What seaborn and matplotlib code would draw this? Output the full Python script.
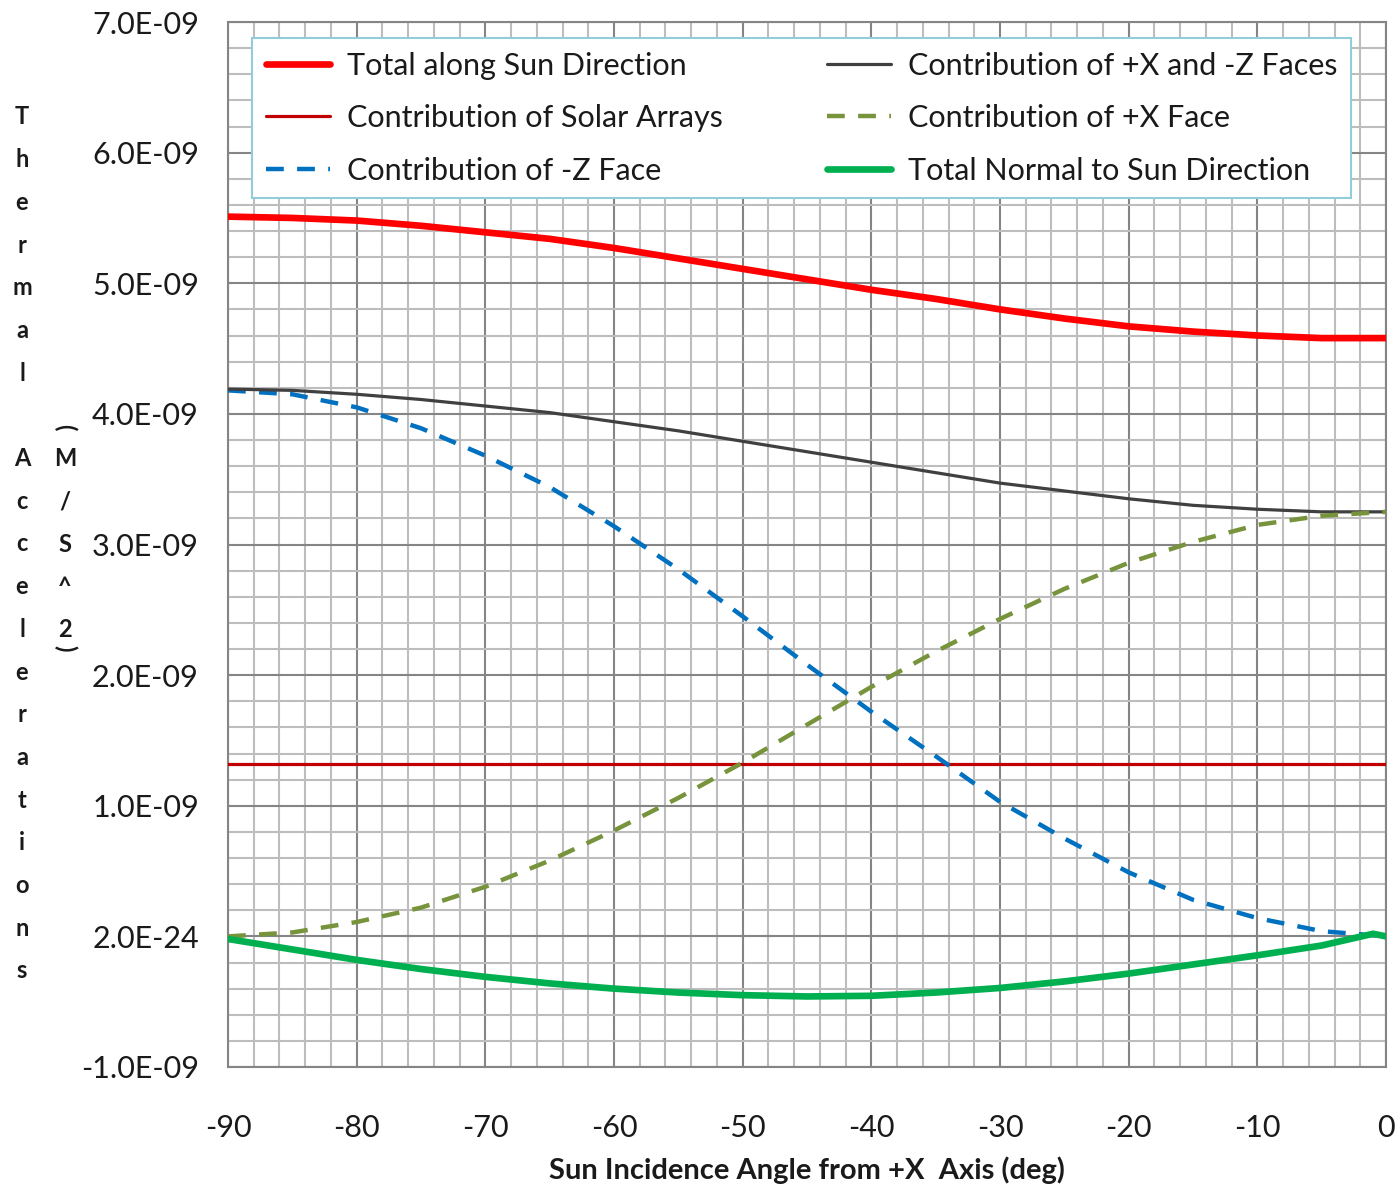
import numpy as np
import pandas as pd
import matplotlib
matplotlib.use("Agg")
import matplotlib.pyplot as plt
from matplotlib.ticker import FixedLocator, FixedFormatter, MultipleLocator
import seaborn as sns

# Sun incidence angle (deg) and thermal accelerations (units of 1e-9 m/s^2)
angles = [-90, -85, -80, -75, -70, -65, -60, -55, -50, -45,
          -40, -35, -30, -25, -20, -15, -10, -5, 0]
total_along_sun = [5.51, 5.50, 5.48, 5.44, 5.39, 5.34, 5.27, 5.19, 5.11, 5.03,
                   4.95, 4.88, 4.80, 4.73, 4.67, 4.63, 4.60, 4.58, 4.58]
solar_arrays = [1.32, 1.32, 1.32, 1.32, 1.32, 1.32, 1.32, 1.32, 1.32, 1.32,
                1.32, 1.32, 1.32, 1.32, 1.32, 1.32, 1.32, 1.32, 1.32]
minus_z_face = [4.18, 4.15, 4.05, 3.89, 3.68, 3.44, 3.14, 2.81, 2.45, 2.08,
                1.72, 1.38, 1.03, 0.75, 0.49, 0.28, 0.14, 0.04, 0.00]
plus_x_and_minus_z = [4.19, 4.18, 4.15, 4.11, 4.06, 4.01, 3.94, 3.87, 3.79, 3.71,
                      3.63, 3.55, 3.47, 3.41, 3.35, 3.30, 3.27, 3.25, 3.25]
plus_x_face = [0.00, 0.03, 0.11, 0.22, 0.38, 0.58, 0.81, 1.06, 1.33, 1.62,
               1.91, 2.18, 2.43, 2.66, 2.86, 3.02, 3.15, 3.22, 3.25]
angles_normal = [-90, -85, -80, -75, -70, -65, -60, -55, -50, -45,
                 -40, -35, -30, -25, -20, -15, -10, -5, -1, 0]
total_normal = [-0.02, -0.10, -0.18, -0.25, -0.31, -0.36, -0.40, -0.43, -0.45, -0.46,
                -0.455, -0.43, -0.395, -0.345, -0.285, -0.215, -0.145, -0.07, 0.02, 0.00]

x_ticks = [-90, -80, -70, -60, -50, -40, -30, -20, -10, 0]
x_tick_labels = ["-90", "-80", "-70", "-60", "-50", "-40", "-30", "-20", "-10", "0"]
y_ticks = [-1e-9, 0.0, 1e-9, 2e-9, 3e-9, 4e-9, 5e-9, 6e-9, 7e-9]
y_tick_labels = ["-1.0E-09", "2.0E-24", "1.0E-09", "2.0E-09", "3.0E-09",
                 "4.0E-09", "5.0E-09", "6.0E-09", "7.0E-09"]

SCALE = 1e-9
TEXT = "#1a1a1a"

# series: label, angles, values, colour, width, dash pattern
series = [
    ("Total along Sun Direction", angles, total_along_sun, "#FF0000", 4.8, None),
    ("Contribution of Solar Arrays", angles, solar_arrays, "#C00000", 2.3, None),
    ("Contribution of -Z Face", angles, minus_z_face, "#0070C0", 3.2, (4, 3)),
    ("Contribution of +X and -Z Faces", angles, plus_x_and_minus_z, "#404040", 2.3, None),
    ("Contribution of +X Face", angles, plus_x_face, "#77933C", 3.2, (4, 3)),
    ("Total Normal to Sun Direction", angles_normal, total_normal, "#00B050", 4.8, None),
]

sns.set_style("white")
plt.rcParams["font.family"] = ["Lato", "DejaVu Sans"]

fig = plt.figure(figsize=(14, 11.86), dpi=100)
ax = fig.add_axes([228 / 1400, 1 - 1067 / 1186, (1386 - 228) / 1400, (1067 - 22) / 1186])

for label, xs, vals, color, lw, dash in series:
    df = pd.DataFrame({"angle": xs, "accel": np.array(vals) * SCALE})
    kw = {}
    if dash is not None:
        kw["linestyle"] = (0, dash)
    sns.lineplot(data=df, x="angle", y="accel", ax=ax, color=color,
                 linewidth=lw, label=label, zorder=3, **kw)

ax.set_xlim(-90, 0)
ax.set_ylim(-1e-9, 7e-9)

ax.xaxis.set_major_locator(FixedLocator(x_ticks))
ax.xaxis.set_major_formatter(FixedFormatter(x_tick_labels))
ax.yaxis.set_major_locator(FixedLocator(y_ticks))
ax.yaxis.set_major_formatter(FixedFormatter(y_tick_labels))
ax.xaxis.set_minor_locator(MultipleLocator(2))
ax.yaxis.set_minor_locator(MultipleLocator(0.2e-9))

ax.grid(which="minor", color="#bdbdbd", linewidth=1.5, zorder=0)
ax.grid(which="major", color="#858585", linewidth=1.5, zorder=1)
ax.set_axisbelow(True)

ax.tick_params(axis="both", which="minor", length=0)
ax.tick_params(axis="x", which="major", length=12, width=1.5, color="#858585",
               pad=22, labelsize=22, labelcolor=TEXT)
ax.tick_params(axis="y", which="major", length=11, width=1.5, color="#858585",
               pad=10, labelsize=22, labelcolor=TEXT)
for sp in ax.spines.values():
    sp.set_color("#858585")
    sp.set_linewidth(1.5)
    sp.set_visible(True)

ax.set_xlabel("")
ax.set_ylabel("")
fig.text((228 + 1386) / 2 / 1400, 1 - 1170 / 1186,
         "Sun Incidence Angle from +X  Axis (deg)",
         ha="center", va="center", fontsize=21, fontweight="bold", color=TEXT)

# stacked vertical axis title
col1 = list("Thermal") + [""] + list("Accelerations")
for i, ch in enumerate(col1):
    if ch:
        fig.text(22 / 1400, 1 - (117 + i * 42.7) / 1186, ch, ha="center", va="center",
                 fontsize=17, fontweight="bold", color=TEXT)
col2 = list("M/S^2")
for i, ch in enumerate(col2):
    fig.text(65 / 1400, 1 - (459 + i * 42.7) / 1186, ch, ha="center", va="center",
             fontsize=17, fontweight="bold", color=TEXT)
fig.text(65 / 1400, 1 - 427 / 1186, "(", rotation=-90, ha="center", va="center",
         fontsize=17, fontweight="bold", color=TEXT)
fig.text(65 / 1400, 1 - 648 / 1186, ")", rotation=-90, ha="center", va="center",
         fontsize=17, fontweight="bold", color=TEXT)

leg = ax.legend(ncol=2, loc="upper left",
                bbox_to_anchor=(0.0207, 0.8335, 0.9495, 0.1512), mode="expand",
                frameon=True, fancybox=False, framealpha=1, edgecolor="#92CDDC",
                fontsize=22, handlelength=2.1, handletextpad=0.55,
                labelspacing=0.8, borderpad=0.45, borderaxespad=0)
leg.get_frame().set_linewidth(1.5)
for t in leg.get_texts():
    t.set_color(TEXT)

fig.savefig("out.png", dpi=100)
